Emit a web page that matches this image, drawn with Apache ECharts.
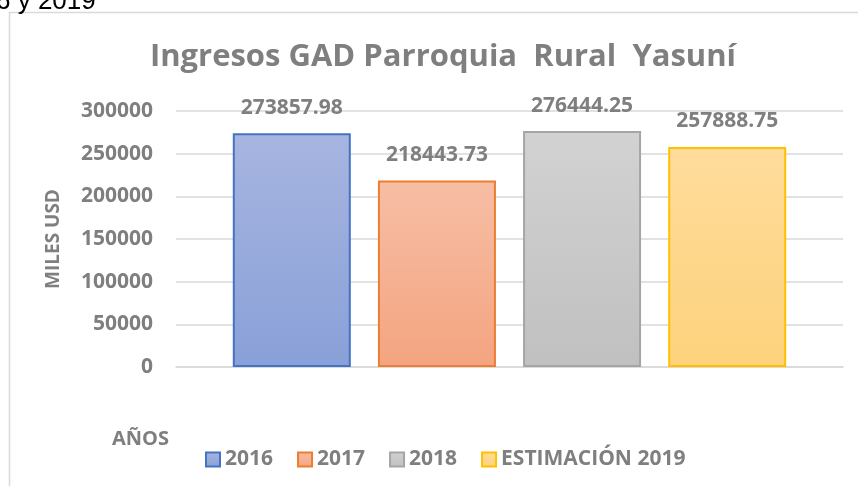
<!DOCTYPE html>
<html>
<head>
<meta charset="utf-8">
<title>Ingresos GAD Parroquia Rural Yasuní</title>
<script src="https://cdn.jsdelivr.net/npm/echarts@6/dist/echarts.min.js"></script>
<style>
    html, body { margin: 0; padding: 0; background: #fff; }
    #main { width: 858px; height: 486px; }
</style>
</head>
<body>
<div id="main"></div>
<script>
// datos del grafico
var anios = ['2016', '2017', '2018', 'ESTIMACIÓN 2019'];
var ingresos = [273857.98, 218443.73, 276444.25, 257888.75];
var categoria = [''];
var yMin = 0;
var yMax = 300000;
var yStep = 50000;

var bordes = ['#4472c4', '#ed7d31', '#a5a5a5', '#ffc000'];
var rellenoArriba = ['#a7b5e0', '#f7bea5', '#d2d2d2', '#ffdc9c'];
var rellenoAbajo = ['#89a0d8', '#f4a480', '#c0c0c0', '#fdd27c'];

var gris = '#7f7f7f';
var fuente = '"Open Sans", "Noto Sans", sans-serif';

function relleno(i) {
    return new echarts.graphic.LinearGradient(0, 0, 0, 1, [
        { offset: 0, color: rellenoArriba[i] },
        { offset: 1, color: rellenoAbajo[i] }
    ]);
}

function showChart() {
    var myChart = echarts.init(document.getElementById('main'), null, { renderer: 'canvas' });

    var series = anios.map(function (anio, i) {
        return {
            name: anio,
            type: 'bar',
            data: [ingresos[i]],
            barWidth: 118,
            barGap: '23%',
            itemStyle: {
                color: relleno(i),
                borderColor: bordes[i],
                borderWidth: 2
            },
            label: {
                show: true,
                position: 'top',
                distance: 15,
                color: gris,
                fontFamily: fuente,
                fontWeight: 'bold',
                fontSize: 21
            }
        };
    });

    var option = {
        animation: false,
        title: [
            {
                text: 'Ingresos GAD Parroquia  Rural  Yasuní',
                left: 443,
                top: 42,
                textAlign: 'center',
                padding: 0,
                textStyle: {
                    color: gris,
                    fontFamily: fuente,
                    fontWeight: 'bold',
                    fontSize: 31
                }
            },
            {
                text: 'AÑOS',
                left: 112,
                top: 429,
                padding: 0,
                textStyle: {
                    color: gris,
                    fontFamily: fuente,
                    fontWeight: 'bold',
                    fontSize: 20
                }
            }
        ],
        graphic: [
            {
                type: 'rect',
                shape: { x: 9.5, y: 12.5, width: 900, height: 500 },
                style: { fill: 'none', stroke: '#d9d9d9', lineWidth: 1.5 },
                silent: true
            },
            {
                type: 'text',
                left: -4,
                top: -11,
                style: {
                    text: '6 y 2019',
                    fill: '#000',
                    font: '26px "Liberation Sans", Arial, sans-serif'
                },
                silent: true
            }
        ],
        legend: {
            data: anios,
            left: 200,
            top: 444,
            padding: 5,
            icon: 'rect',
            itemWidth: 14,
            itemHeight: 14,
            itemGap: 24,
            textStyle: {
                color: gris,
                fontFamily: fuente,
                fontWeight: 'bold',
                fontSize: 21
            }
        },
        grid: {
            left: 176,
            right: 15,
            top: 111,
            bottom: 119,
            containLabel: false
        },
        xAxis: {
            type: 'category',
            data: categoria,
            axisLine: { show: true, lineStyle: { color: '#d9d9d9', width: 1.5 } },
            axisTick: { show: false },
            axisLabel: { show: false }
        },
        yAxis: {
            type: 'value',
            min: yMin,
            max: yMax,
            interval: yStep,
            name: 'MILES USD',
            nameLocation: 'middle',
            nameGap: 113,
            nameTextStyle: {
                color: gris,
                fontFamily: fuente,
                fontWeight: 'bold',
                fontSize: 19
            },
            axisLine: { show: false },
            axisTick: { show: false },
            axisLabel: {
                margin: 23,
                color: gris,
                fontFamily: fuente,
                fontWeight: 'bold',
                fontSize: 21,
                formatter: function (v) { return String(v); }
            },
            splitLine: { lineStyle: { color: '#d9d9d9', width: 1.5 } }
        },
        series: series
    };

    myChart.setOption(option);
}

showChart();
</script>
</body>
</html>
